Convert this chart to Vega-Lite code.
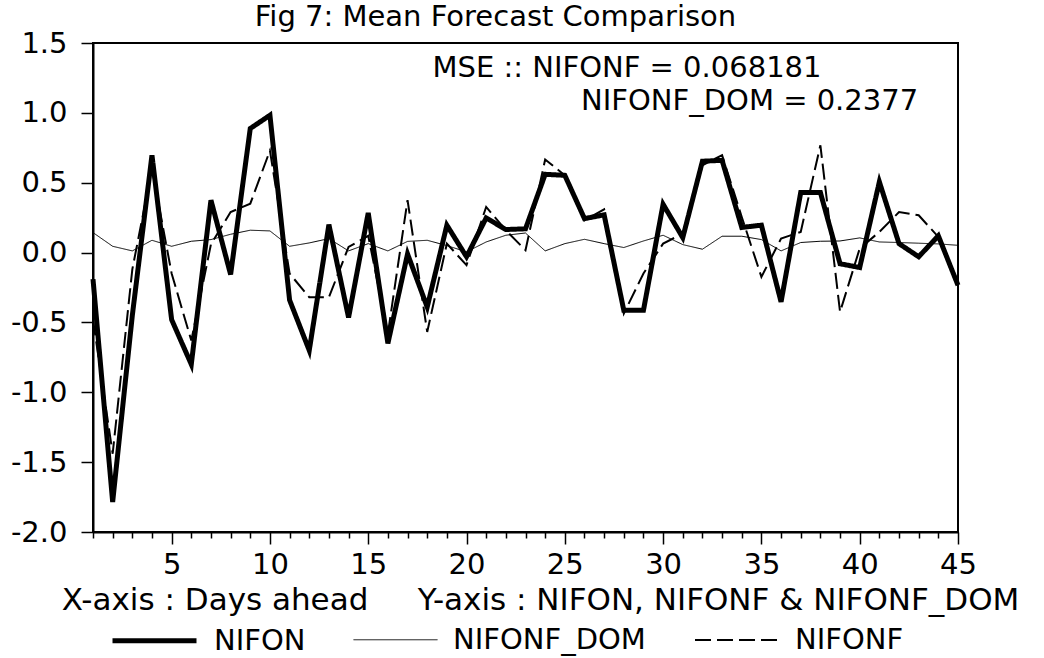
{
  "$schema": "https://vega.github.io/schema/vega-lite/v6.json",
  "width": 865,
  "height": 489,
  "autosize": {"type": "none"},
  "padding": {"left": 93, "top": 43, "right": 86, "bottom": 126},
  "background": "white",
  "title": {"text": "Fig 7: Mean Forecast Comparison", "font": "DejaVu Sans", "fontSize": 29, "fontWeight": "normal", "color": "black", "anchor": "middle", "frame": "group", "orient": "top", "baseline": "alphabetic", "offset": -26, "dx": -30},
  "config": {"view": {"stroke": "black", "strokeWidth": 2}},
  "layer": [
    {
      "data": {"values": [
        {"day": 1, "NIFON": -0.19, "NIFONF": -0.48, "NIFONF_DOM": 0.143},
        {"day": 2, "NIFON": -1.785, "NIFONF": -1.44, "NIFONF_DOM": 0.045},
        {"day": 3, "NIFON": -0.45, "NIFONF": -0.12, "NIFONF_DOM": 0.012},
        {"day": 4, "NIFON": 0.697, "NIFONF": 0.6, "NIFONF_DOM": 0.088},
        {"day": 5, "NIFON": -0.48, "NIFONF": -0.15, "NIFONF_DOM": 0.045},
        {"day": 6, "NIFON": -0.8, "NIFONF": -0.63, "NIFONF_DOM": 0.081},
        {"day": 7, "NIFON": 0.375, "NIFONF": 0.06, "NIFONF_DOM": 0.093},
        {"day": 8, "NIFON": -0.157, "NIFONF": 0.29, "NIFONF_DOM": 0.131},
        {"day": 9, "NIFON": 0.888, "NIFONF": 0.35, "NIFONF_DOM": 0.16},
        {"day": 10, "NIFON": 0.983, "NIFONF": 0.73, "NIFONF_DOM": 0.155},
        {"day": 11, "NIFON": -0.34, "NIFONF": -0.15, "NIFONF_DOM": 0.045},
        {"day": 12, "NIFON": -0.7, "NIFONF": -0.32, "NIFONF_DOM": 0.069},
        {"day": 13, "NIFON": 0.2, "NIFONF": -0.32, "NIFONF_DOM": 0.1},
        {"day": 14, "NIFON": -0.465, "NIFONF": 0.04, "NIFONF_DOM": 0.012},
        {"day": 15, "NIFON": 0.284, "NIFONF": 0.12, "NIFONF_DOM": 0.064},
        {"day": 16, "NIFON": -0.65, "NIFONF": -0.58, "NIFONF_DOM": 0.012},
        {"day": 17, "NIFON": -0.01, "NIFONF": 0.375, "NIFONF_DOM": 0.08},
        {"day": 18, "NIFON": -0.39, "NIFONF": -0.568, "NIFONF_DOM": 0.088},
        {"day": 19, "NIFON": 0.196, "NIFONF": 0.064, "NIFONF_DOM": 0.05},
        {"day": 20, "NIFON": -0.03, "NIFONF": -0.09, "NIFONF_DOM": 0.005},
        {"day": 21, "NIFON": 0.248, "NIFONF": 0.327, "NIFONF_DOM": 0.076},
        {"day": 22, "NIFON": 0.165, "NIFONF": 0.16, "NIFONF_DOM": 0.124},
        {"day": 23, "NIFON": 0.17, "NIFONF": 0.017, "NIFONF_DOM": 0.14},
        {"day": 24, "NIFON": 0.56, "NIFONF": 0.666, "NIFONF_DOM": 0.012},
        {"day": 25, "NIFON": 0.553, "NIFONF": 0.553, "NIFONF_DOM": 0.064},
        {"day": 26, "NIFON": 0.243, "NIFONF": 0.23, "NIFONF_DOM": 0.095},
        {"day": 27, "NIFON": 0.27, "NIFONF": 0.31, "NIFONF_DOM": 0.064},
        {"day": 28, "NIFON": -0.413, "NIFONF": -0.437, "NIFONF_DOM": 0.036},
        {"day": 29, "NIFON": -0.413, "NIFONF": -0.15, "NIFONF_DOM": 0.083},
        {"day": 30, "NIFON": 0.346, "NIFONF": 0.064, "NIFONF_DOM": 0.124},
        {"day": 31, "NIFON": 0.107, "NIFONF": 0.136, "NIFONF_DOM": 0.057},
        {"day": 32, "NIFON": 0.654, "NIFONF": 0.625, "NIFONF_DOM": 0.024},
        {"day": 33, "NIFON": 0.66, "NIFONF": 0.697, "NIFONF_DOM": 0.117},
        {"day": 34, "NIFON": 0.18, "NIFONF": 0.255, "NIFONF_DOM": 0.117},
        {"day": 35, "NIFON": 0.196, "NIFONF": -0.174, "NIFONF_DOM": 0.093},
        {"day": 36, "NIFON": -0.353, "NIFONF": 0.1, "NIFONF_DOM": 0.012},
        {"day": 37, "NIFON": 0.43, "NIFONF": 0.148, "NIFONF_DOM": 0.072},
        {"day": 38, "NIFON": 0.43, "NIFONF": 0.768, "NIFONF_DOM": 0.081},
        {"day": 39, "NIFON": -0.08, "NIFONF": -0.425, "NIFONF_DOM": 0.083},
        {"day": 40, "NIFON": -0.107, "NIFONF": 0.029, "NIFONF_DOM": 0.105},
        {"day": 41, "NIFON": 0.506, "NIFONF": 0.148, "NIFONF_DOM": 0.076},
        {"day": 42, "NIFON": 0.064, "NIFONF": 0.29, "NIFONF_DOM": 0.072},
        {"day": 43, "NIFON": -0.03, "NIFONF": 0.267, "NIFONF_DOM": 0.067},
        {"day": 44, "NIFON": 0.12, "NIFONF": 0.112, "NIFONF_DOM": 0.062},
        {"day": 45, "NIFON": -0.234, "NIFONF": -0.234, "NIFONF_DOM": 0.052}
      ]},
      "transform": [{"fold": ["NIFON", "NIFONF_DOM", "NIFONF"], "as": ["series", "value"]}],
      "mark": {"type": "line", "color": "black", "strokeJoin": "miter", "strokeCap": "butt"},
      "encoding": {
        "x": {
          "field": "day", "type": "quantitative",
          "scale": {"domain": [1, 45], "nice": false, "zero": false},
          "axis": {
            "values": [1,2,3,4,5,6,7,8,9,10,11,12,13,14,15,16,17,18,19,20,21,22,23,24,25,26,27,28,29,30,31,32,33,34,35,36,37,38,39,40,41,42,43,44,45],
            "tickCount": 60,
            "labelExpr": "datum.value % 5 === 0 ? datum.label : ''",
            "tickSize": {"condition": {"test": "datum.value % 5 === 0", "value": 12}, "value": 6},
            "grid": false,
            "title": "X-axis : Days ahead\u00a0\u00a0\u00a0\u00a0 Y-axis : NIFON, NIFONF & NIFONF_DOM",
            "titleFont": "DejaVu Sans", "titleFontSize": 31, "titleFontWeight": "normal", "titleColor": "black",
            "titleX": 447, "titleY": 77, "titleBaseline": "alphabetic", "titleAlign": "center",
            "labelFont": "DejaVu Sans", "labelFontSize": 29, "labelColor": "black", "labelPadding": 6,
            "labelFlush": false, "labelOverlap": false, "labelBound": false,
            "tickColor": "black", "tickWidth": 1.5, "domainColor": "black", "domainWidth": 2
          }
        },
        "y": {
          "field": "value", "type": "quantitative",
          "scale": {"domain": [-2, 1.5], "nice": false, "zero": false},
          "axis": {
            "values": [-2, -1.5, -1, -0.5, 0, 0.5, 1, 1.5],
            "tickCount": 10,
            "format": ".1f",
            "labelExpr": "replace(datum.label, '\u2212', '-')",
            "tickSize": 12, "labelPadding": 14, "grid": false, "title": null,
            "labelFont": "DejaVu Sans", "labelFontSize": 29, "labelColor": "black",
            "labelFlush": false, "labelOverlap": false,
            "tickColor": "black", "tickWidth": 1.5, "domainColor": "black", "domainWidth": 2
          }
        },
        "strokeWidth": {
          "field": "series", "type": "nominal",
          "scale": {"type": "ordinal", "domain": ["NIFON", "NIFONF_DOM", "NIFONF"], "range": [5, 1, 2]},
          "legend": {
            "title": null, "orient": "none", "legendX": 17, "legendY": 553, "direction": "horizontal",
            "symbolType": "stroke", "symbolSize": 7056, "symbolStrokeColor": "black",
            "labelFont": "DejaVu Sans", "labelFontSize": 29, "labelColor": "black", "labelOffset": 15,
            "columnPadding": 45, "padding": 0, "labelLimit": 400
          }
        },
        "strokeDash": {
          "field": "series", "type": "nominal",
          "scale": {"domain": ["NIFON", "NIFONF_DOM", "NIFONF"], "range": [[1, 0], [1, 0], [16, 6]]},
          "legend": {
            "title": null, "orient": "none", "legendX": 17, "legendY": 553, "direction": "horizontal",
            "symbolType": "stroke", "symbolSize": 7056, "symbolStrokeColor": "black",
            "labelFont": "DejaVu Sans", "labelFontSize": 29, "labelColor": "black", "labelOffset": 15,
            "columnPadding": 45, "padding": 0, "labelLimit": 400
          }
        }
      }
    },
    {
      "data": {"values": [{}]},
      "mark": {"type": "text", "font": "DejaVu Sans", "fontSize": 29, "align": "left", "baseline": "alphabetic", "color": "black"},
      "encoding": {
        "x": {"datum": 18.27, "type": "quantitative"},
        "y": {"datum": 1.257, "type": "quantitative"},
        "text": {"value": "MSE :: NIFONF = 0.068181"}
      }
    },
    {
      "data": {"values": [{}]},
      "mark": {"type": "text", "font": "DejaVu Sans", "fontSize": 29, "align": "center", "baseline": "alphabetic", "color": "black"},
      "encoding": {
        "x": {"datum": 34.4, "type": "quantitative"},
        "y": {"datum": 1.024, "type": "quantitative"},
        "text": {"value": "NIFONF_DOM = 0.2377"}
      }
    }
  ]
}
